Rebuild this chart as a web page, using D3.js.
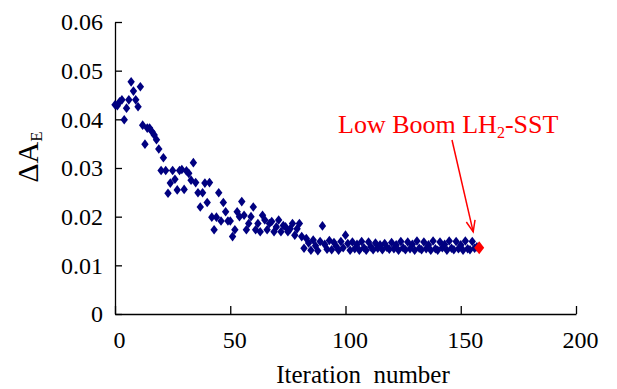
<!DOCTYPE html>
<html>
<head>
<meta charset="utf-8">
<script src="https://cdn.jsdelivr.net/npm/d3@7"></script>
<style>
  body { margin: 0; background: #fff; }
  svg text { font-family: "Liberation Serif", "Times New Roman", serif; }
</style>
</head>
<body>
<div class="chart"></div>
<script>
var width = 617, height = 389;
var margin = {top: 22, right: 41, bottom: 75, left: 115};
var plotW = width - margin.left - margin.right;
var plotH = height - margin.top - margin.bottom;

// delta A_E per iteration, starting at iteration 0
let deltaAE = [
  0.0430, 0.0428, 0.0436, 0.0440, 0.0399, 0.0423, 0.0440, 0.0477, 0.0458, 0.0440,
  0.0426, 0.0467, 0.0388, 0.0349, 0.0382, 0.0382, 0.0375, 0.0368, 0.0358, 0.0339,
  0.0295, 0.0321, 0.0295, 0.0248, 0.0269, 0.0295, 0.0277, 0.0255, 0.0295, 0.0297,
  0.0256, 0.0294, 0.0289, 0.0275, 0.0311, 0.0270, 0.0249, 0.0220, 0.0249, 0.0269,
  0.0229, 0.0270, 0.0199, 0.0173, 0.0199, 0.0249, 0.0191, 0.0229, 0.0210, 0.0191,
  0.0191, 0.0159, 0.0173, 0.0210, 0.0200, 0.0231, 0.0203, 0.0173, 0.0186, 0.0200,
  0.0220, 0.0173, 0.0186, 0.0169, 0.0203, 0.0193, 0.0173, 0.0186, 0.0190, 0.0169,
  0.0179, 0.0193, 0.0169, 0.0182, 0.0179, 0.0169, 0.0175, 0.0186, 0.0162, 0.0175,
  0.0186, 0.0159, 0.0135, 0.0155, 0.0146, 0.0131, 0.0152, 0.0140, 0.0130, 0.0149,
  0.0181, 0.0143, 0.0133, 0.0151, 0.0132, 0.0147, 0.0139, 0.0131, 0.0149, 0.0136,
  0.0162, 0.0145, 0.0131, 0.0148, 0.0134, 0.0143, 0.0131, 0.0149, 0.0136, 0.0131,
  0.0148, 0.0138, 0.0132, 0.0146, 0.0135, 0.0142, 0.0132, 0.0145, 0.0137, 0.0133,
  0.0147, 0.0134, 0.0142, 0.0131, 0.0149, 0.0136, 0.0132, 0.0148, 0.0134, 0.0143,
  0.0131, 0.0150, 0.0135, 0.0132, 0.0148, 0.0134, 0.0142, 0.0131, 0.0150, 0.0134,
  0.0131, 0.0148, 0.0136, 0.0143, 0.0131, 0.0150, 0.0135, 0.0132, 0.0149, 0.0134,
  0.0142, 0.0131, 0.0150, 0.0134, 0.0132, 0.0149, 0.0135, 0.0138
];
let finalPoint = [{iter: 158, value: 0.0136}];

let xTicks = [0, 50, 100, 150, 200];
let yTicks = [0, 0.01, 0.02, 0.03, 0.04, 0.05, 0.06];
let annotation = 'Low Boom LH';

let points = deltaAE.map((v, i) => ({iter: i, value: v}));

let svg = d3.select('.chart')
  .append('svg')
  .attr('width', width)
  .attr('height', height)
  .append('g')
  .attr('transform', `translate(${margin.left}, ${margin.top})`);

let xScale = d3.scaleLinear().domain([0, 200]).range([0, plotW]);
let yScale = d3.scaleLinear().domain([0, 0.06]).range([plotH, 0]);

// axes, ticks point inward
let yAxis = d3.axisLeft(yScale)
  .tickValues(yTicks)
  .tickSizeInner(-7)
  .tickSizeOuter(0)
  .tickPadding(12)
  .tickFormat(d => d === 0 ? '0' : d3.format('.2f')(d));

let xAxis = d3.axisBottom(xScale)
  .tickValues(xTicks)
  .tickSizeInner(-8)
  .tickSizeOuter(0)
  .tickPadding(17)
  .tickFormat(d3.format('d'));

let gx = svg.append('g')
  .attr('transform', `translate(0, ${plotH})`)
  .call(xAxis);
let gy = svg.append('g').call(yAxis);

[gx, gy].forEach(g => {
  g.attr('font-family', null).attr('font-size', null);
  g.selectAll('path, line').attr('stroke', '#000').attr('stroke-width', 1.3);
  g.selectAll('text')
    .attr('fill', '#000')
    .style('font-size', '24px')
    .style('font-family', '"Liberation Serif", serif');
});
gx.selectAll('text').attr('dx', 4);

// markers
let diamond = 'M0,-4.8L3.7,0L0,4.8L-3.7,0Z';
let bigDiamond = 'M0,-6.5L5,0L0,6.5L-5,0Z';

svg.append('g')
  .selectAll('path')
  .data(points)
  .enter()
  .append('path')
  .attr('d', diamond)
  .attr('transform', d => `translate(${xScale(d.iter)}, ${yScale(d.value)})`)
  .style('fill', '#000080');

svg.append('g')
  .selectAll('path')
  .data(finalPoint)
  .enter()
  .append('path')
  .attr('d', bigDiamond)
  .attr('transform', d => `translate(${xScale(d.iter)}, ${yScale(d.value)})`)
  .style('fill', '#ff0000');

// axis titles
svg.append('text')
  .attr('x', 363 - margin.left)
  .attr('y', 383 - margin.top)
  .style('text-anchor', 'middle')
  .style('font-size', '25px')
  .text('Iteration\u00a0\u00a0number');

let yTitle = svg.append('text')
  .attr('transform', `translate(${38 - margin.left}, ${157 - margin.top}) rotate(-90)`)
  .style('text-anchor', 'middle')
  .style('font-size', '30px');
yTitle.append('tspan').text('\u0394A');
yTitle.append('tspan')
  .attr('dy', 4)
  .style('font-size', '17px')
  .text('E');

// annotation
let note = svg.append('text')
  .attr('x', 338 - margin.left)
  .attr('y', 133 - margin.top)
  .style('font-size', '26px')
  .style('fill', '#ff0000');
note.append('tspan').text(annotation);
note.append('tspan').attr('dy', 5).style('font-size', '16px').text('2');
note.append('tspan').attr('dy', -5).text('-SST');

// arrow from label to the last point
let tip = finalPoint[0];
let tx = xScale(tip.iter) - 6, ty = yScale(tip.value) - 16;
let sx = 452 - margin.left, sy = 140 - margin.top;
let ang = Math.atan2(ty - sy, tx - sx);
let head = 12, spread = 0.38;
svg.append('line')
  .attr('x1', sx).attr('y1', sy)
  .attr('x2', tx).attr('y2', ty)
  .style('stroke', '#ff0000')
  .style('stroke-width', 1.5);
svg.append('path')
  .attr('d', `M${tx - head * Math.cos(ang - spread)},${ty - head * Math.sin(ang - spread)}` +
    `L${tx},${ty}` +
    `L${tx - head * Math.cos(ang + spread)},${ty - head * Math.sin(ang + spread)}`)
  .style('fill', 'none')
  .style('stroke', '#ff0000')
  .style('stroke-width', 1.5);
</script>
</body>
</html>
